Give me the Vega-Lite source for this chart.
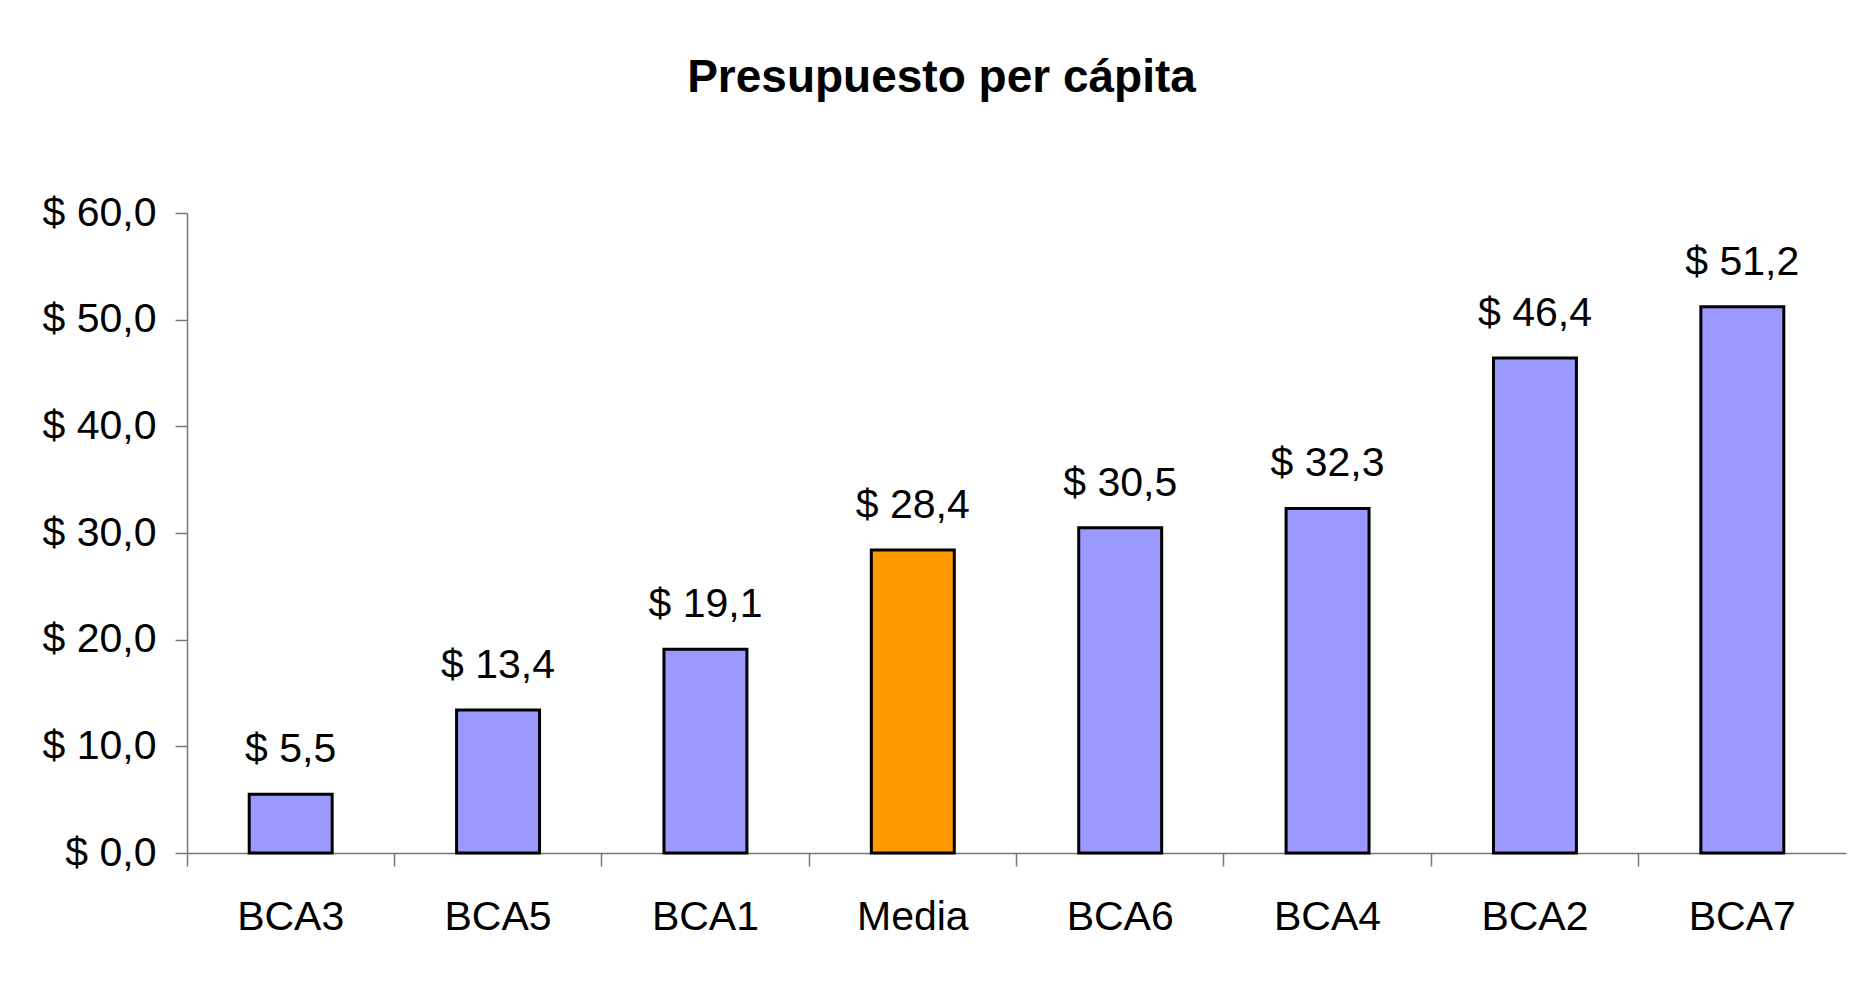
{
  "$schema": "https://vega.github.io/schema/vega-lite/v6.json",
  "width": 1659,
  "height": 640,
  "autosize": "none",
  "padding": {"left": 187, "top": 213, "right": 27, "bottom": 137},
  "background": "white",
  "config": {
    "locale": {"number": {"decimal": ",", "thousands": ".", "grouping": [3], "currency": ["$ ", ""]}},
    "view": {"stroke": null},
    "font": "Liberation Sans"
  },
  "title": {
    "text": "Presupuesto per cápita",
    "font": "Liberation Sans",
    "fontSize": 46,
    "fontWeight": "bold",
    "color": "black",
    "anchor": "middle",
    "frame": "group",
    "baseline": "alphabetic",
    "dx": -75,
    "offset": 54
  },
  "data": {
    "values": [
      {"region": "BCA3", "valor": 5.5, "tipo": "BCA"},
      {"region": "BCA5", "valor": 13.4, "tipo": "BCA"},
      {"region": "BCA1", "valor": 19.1, "tipo": "BCA"},
      {"region": "Media", "valor": 28.4, "tipo": "Media"},
      {"region": "BCA6", "valor": 30.5, "tipo": "BCA"},
      {"region": "BCA4", "valor": 32.3, "tipo": "BCA"},
      {"region": "BCA2", "valor": 46.4, "tipo": "BCA"},
      {"region": "BCA7", "valor": 51.2, "tipo": "BCA"}
    ]
  },
  "encoding": {
    "x": {
      "field": "region",
      "type": "nominal",
      "sort": null,
      "scale": {"paddingInner": 0, "paddingOuter": 0},
      "axis": {
        "title": null,
        "bandPosition": 0,
        "labelAngle": 0,
        "labelFont": "Liberation Sans",
        "labelFontSize": 41,
        "labelColor": "black",
        "labelPadding": 31,
        "tickSize": 13,
        "tickColor": "#777777",
        "tickWidth": 1.5,
        "domainColor": "#777777",
        "domainWidth": 1.5,
        "grid": false
      }
    }
  },
  "layer": [
    {
      "mark": {"type": "bar", "width": {"band": 0.4}, "stroke": "black", "strokeWidth": 3},
      "encoding": {
        "y": {
          "field": "valor",
          "type": "quantitative",
          "scale": {"domain": [0, 60], "nice": false},
          "axis": {
            "title": null,
            "values": [0, 10, 20, 30, 40, 50, 60],
            "format": "$.1f",
            "labelFont": "Liberation Sans",
            "labelFontSize": 41,
            "labelColor": "black",
            "labelPadding": 19,
            "tickSize": 12,
            "tickColor": "#777777",
            "tickWidth": 1.5,
            "domainColor": "#777777",
            "domainWidth": 1.5,
            "grid": false
          }
        },
        "color": {
          "field": "tipo",
          "type": "nominal",
          "scale": {"domain": ["BCA", "Media"], "range": ["#9999FF", "#FF9900"]},
          "legend": null
        }
      }
    },
    {
      "mark": {"type": "text", "baseline": "alphabetic", "dy": -32, "fontSize": 41, "font": "Liberation Sans", "color": "black"},
      "encoding": {
        "y": {"field": "valor", "type": "quantitative"},
        "text": {"field": "valor", "type": "quantitative", "format": "$.1f"}
      }
    }
  ]
}
